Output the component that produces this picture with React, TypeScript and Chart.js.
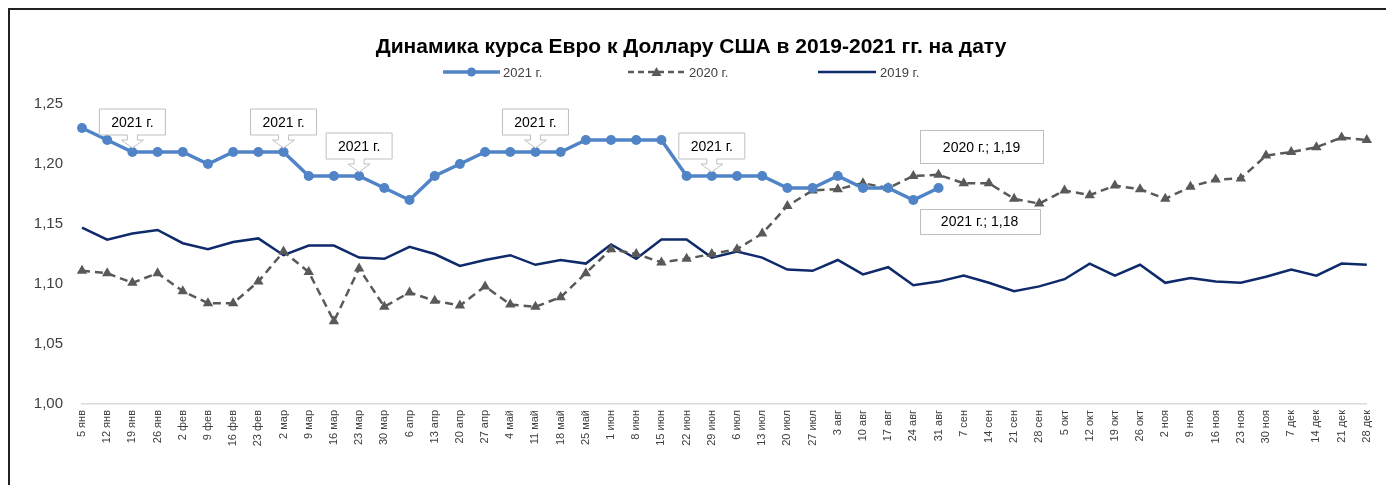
import React, { useEffect, useRef } from "react";
import { Chart, registerables } from "chart.js";

Chart.register(...registerables);

const categories = [
  "5 янв", "12 янв", "19 янв", "26 янв",
  "2 фев", "9 фев", "16 фев", "23 фев",
  "2 мар", "9 мар", "16 мар", "23 мар", "30 мар",
  "6 апр", "13 апр", "20 апр", "27 апр",
  "4 май", "11 май", "18 май", "25 май",
  "1 июн", "8 июн", "15 июн", "22 июн", "29 июн",
  "6 июл", "13 июл", "20 июл", "27 июл",
  "3 авг", "10 авг", "17 авг", "24 авг", "31 авг",
  "7 сен", "14 сен", "21 сен", "28 сен",
  "5 окт", "12 окт", "19 окт", "26 окт",
  "2 ноя", "9 ноя", "16 ноя", "23 ноя", "30 ноя",
  "7 дек", "14 дек", "21 дек", "28 дек",
];

const rate2021 = [
  1.23, 1.22, 1.21, 1.21, 1.21, 1.20, 1.21, 1.21, 1.21, 1.19, 1.19, 1.19, 1.18,
  1.17, 1.19, 1.20, 1.21, 1.21, 1.21, 1.21, 1.22, 1.22, 1.22, 1.22, 1.19, 1.19,
  1.19, 1.19, 1.18, 1.18, 1.19, 1.18, 1.18, 1.17, 1.18,
];

const rate2020 = [
  1.111, 1.109, 1.101, 1.109, 1.094, 1.084, 1.084, 1.102, 1.127, 1.110, 1.069, 1.113, 1.081,
  1.093, 1.086, 1.082, 1.098, 1.083, 1.081, 1.089, 1.109, 1.129, 1.125, 1.118, 1.121, 1.125,
  1.129, 1.142, 1.165, 1.178, 1.179, 1.184, 1.180, 1.190, 1.191, 1.184, 1.184, 1.171, 1.167,
  1.178, 1.174, 1.182, 1.179, 1.171, 1.181, 1.187, 1.188, 1.207, 1.210, 1.214, 1.222, 1.220,
];

const rate2019 = [
  1.147, 1.137, 1.142, 1.145, 1.134, 1.129, 1.135, 1.138, 1.124, 1.132, 1.132, 1.122, 1.121,
  1.131, 1.125, 1.115, 1.120, 1.124, 1.116, 1.120, 1.117, 1.133, 1.121, 1.137, 1.137, 1.122,
  1.127, 1.122, 1.112, 1.111, 1.120, 1.108, 1.114, 1.099, 1.102, 1.107, 1.101, 1.094, 1.098,
  1.104, 1.117, 1.107, 1.116, 1.101, 1.105, 1.102, 1.101, 1.106, 1.112, 1.107, 1.117, 1.116,
];

const seriesNames = ["2021 г.", "2020 г.", "2019 г."];
const calloutIndexes = [2, 8, 11, 18, 25];
const yMin = 1.0;
const yMax = 1.25;
const yStep = 0.05;

const TITLE = "Динамика курса Евро к Доллару США в 2019-2021 гг. на дату";
const FONT = "'Liberation Sans', Arial, sans-serif";
const C2021 = "#5084C6";
const C2020 = "#595959";
const C2019 = "#0E2A6B";
const TEXT = "#404040";

const fmt = (v: number) => v.toFixed(2).replace(".", ",");

function drawCallout(ctx: CanvasRenderingContext2D, px: number, py: number, text: string) {
  const w = 66, h = 26;
  const b = py - 17;
  const t = b - h;
  const l = px - w / 2;
  const r = px + w / 2;
  ctx.save();
  ctx.beginPath();
  ctx.moveTo(l, t);
  ctx.lineTo(r, t);
  ctx.lineTo(r, b);
  ctx.lineTo(px + 5, b);
  ctx.lineTo(px + 5, b + 5);
  ctx.lineTo(px + 11, b + 5);
  ctx.lineTo(px, py - 4);
  ctx.lineTo(px - 11, b + 5);
  ctx.lineTo(px - 5, b + 5);
  ctx.lineTo(px - 5, b);
  ctx.lineTo(l, b);
  ctx.closePath();
  ctx.fillStyle = "#ffffff";
  ctx.fill();
  ctx.strokeStyle = "#BFBFBF";
  ctx.lineWidth = 1;
  ctx.stroke();
  ctx.fillStyle = "#000000";
  ctx.font = `14px ${FONT}`;
  ctx.textAlign = "center";
  ctx.textBaseline = "middle";
  ctx.fillText(text, px, t + h / 2 + 1);
  ctx.restore();
}

function drawBoxLabel(ctx: CanvasRenderingContext2D, cx: number, cy: number, w: number, h: number, text: string) {
  ctx.save();
  ctx.fillStyle = "#ffffff";
  ctx.fillRect(cx - w / 2, cy - h / 2, w, h);
  ctx.strokeStyle = "#BFBFBF";
  ctx.lineWidth = 1;
  ctx.strokeRect(Math.round(cx - w / 2) + 0.5, Math.round(cy - h / 2) + 0.5, w, h);
  ctx.fillStyle = "#000000";
  ctx.font = `14px ${FONT}`;
  ctx.textAlign = "center";
  ctx.textBaseline = "middle";
  ctx.fillText(text, cx, cy + 1);
  ctx.restore();
}

const annotationPlugin = {
  id: "annotations",
  afterDatasetsDraw(chart: any) {
    const ctx = chart.ctx as CanvasRenderingContext2D;
    const m21 = chart.getDatasetMeta(0).data;
    const m20 = chart.getDatasetMeta(1).data;
    calloutIndexes.forEach((i) => {
      const p = m21[i];
      if (p) drawCallout(ctx, p.x, p.y, seriesNames[0]);
    });
    const last = rate2021.length - 1;
    const p20 = m20[last];
    const p21 = m21[last];
    if (p20) drawBoxLabel(ctx, p20.x + 43, p20.y - 28, 123, 33, `${seriesNames[1]}; ${fmt(rate2020[last])}`);
    if (p21) drawBoxLabel(ctx, p21.x + 41, p21.y + 33, 120, 25, `${seriesNames[0]}; ${fmt(rate2021[last])}`);
  },
};

const headerPlugin = {
  id: "header",
  afterDraw(chart: any) {
    const ctx = chart.ctx as CanvasRenderingContext2D;
    ctx.save();
    ctx.fillStyle = "#000000";
    ctx.font = `bold 21px ${FONT}`;
    ctx.textAlign = "center";
    ctx.textBaseline = "middle";
    ctx.fillText(TITLE, 681, 37);

    const y = 62;
    ctx.font = `13px ${FONT}`;
    ctx.textAlign = "left";
    ctx.fillStyle = TEXT;
    // 2021
    ctx.strokeStyle = C2021;
    ctx.lineWidth = 3.5;
    ctx.beginPath();
    ctx.moveTo(433, y);
    ctx.lineTo(490, y);
    ctx.stroke();
    ctx.fillStyle = C2021;
    ctx.beginPath();
    ctx.arc(461.5, y, 4.5, 0, Math.PI * 2);
    ctx.fill();
    ctx.fillStyle = TEXT;
    ctx.fillText(seriesNames[0], 493, y + 1);
    // 2020
    ctx.strokeStyle = C2020;
    ctx.lineWidth = 2.5;
    ctx.setLineDash([6, 4]);
    ctx.beginPath();
    ctx.moveTo(618, y);
    ctx.lineTo(675, y);
    ctx.stroke();
    ctx.setLineDash([]);
    ctx.fillStyle = C2020;
    ctx.beginPath();
    ctx.moveTo(646.5, y - 5);
    ctx.lineTo(651.5, y + 4);
    ctx.lineTo(641.5, y + 4);
    ctx.closePath();
    ctx.fill();
    ctx.fillStyle = TEXT;
    ctx.fillText(seriesNames[1], 679, y + 1);
    // 2019
    ctx.strokeStyle = C2019;
    ctx.lineWidth = 2.5;
    ctx.beginPath();
    ctx.moveTo(808, y);
    ctx.lineTo(866, y);
    ctx.stroke();
    ctx.fillStyle = TEXT;
    ctx.fillText(seriesNames[2], 870, y + 1);
    ctx.restore();
  },
};

export default function App() {
  const canvasRef = useRef<HTMLCanvasElement | null>(null);

  useEffect(() => {
    const canvas = canvasRef.current;
    if (!canvas) return;
    const chart = new Chart(canvas, {
      type: "line",
      data: {
        labels: categories,
        datasets: [
          {
            label: seriesNames[0],
            data: rate2021,
            borderColor: C2021,
            backgroundColor: C2021,
            borderWidth: 3.5,
            pointStyle: "circle",
            pointRadius: 5,
            pointBorderWidth: 0,
            pointBackgroundColor: C2021,
            tension: 0,
            order: 0,
          },
          {
            label: seriesNames[1],
            data: rate2020,
            borderColor: C2020,
            backgroundColor: C2020,
            borderWidth: 2.5,
            borderDash: [8, 5],
            pointStyle: "triangle",
            pointRadius: 6,
            pointBorderWidth: 0,
            pointBackgroundColor: C2020,
            tension: 0,
            order: 1,
          },
          {
            label: seriesNames[2],
            data: rate2019,
            borderColor: C2019,
            backgroundColor: C2019,
            borderWidth: 2.5,
            pointRadius: 0,
            tension: 0,
            order: 2,
          },
        ],
      },
      options: {
        responsive: false,
        animation: false,
        devicePixelRatio: 1,
        layout: { padding: { top: 94, right: 13, left: 0, bottom: 0 } },
        plugins: {
          legend: { display: false },
          title: { display: false },
          tooltip: { enabled: false },
        },
        scales: {
          x: {
            type: "category",
            offset: false,
            grid: { display: false, drawTicks: false },
            border: { display: true, color: "#D9D9D9", width: 1.5 },
            ticks: {
              autoSkip: false,
              minRotation: 90,
              maxRotation: 90,
              padding: 6,
              color: TEXT,
              font: { family: FONT, size: 11 },
            },
            afterFit: (scale: any) => {
              scale.height = 81;
            },
          },
          y: {
            min: yMin,
            max: yMax,
            grid: { display: false, drawTicks: false },
            border: { display: false },
            ticks: {
              stepSize: yStep,
              padding: 19,
              color: TEXT,
              font: { family: FONT, size: 15 },
              callback: (v: any) => fmt(Number(v)),
            },
            afterFit: (scale: any) => {
              scale.width = 72;
            },
          },
        },
      },
      plugins: [annotationPlugin, headerPlugin],
    });
    return () => chart.destroy();
  }, []);

  return (
    <div
      style={{
        borderTop: "2px solid #222",
        borderLeft: "2px solid #222",
        width: 1376,
        height: 475,
        background: "#fff",
      }}
    >
      <canvas ref={canvasRef} width={1376} height={475} style={{ display: "block", width: 1376, height: 475 }} />
    </div>
  );
}
